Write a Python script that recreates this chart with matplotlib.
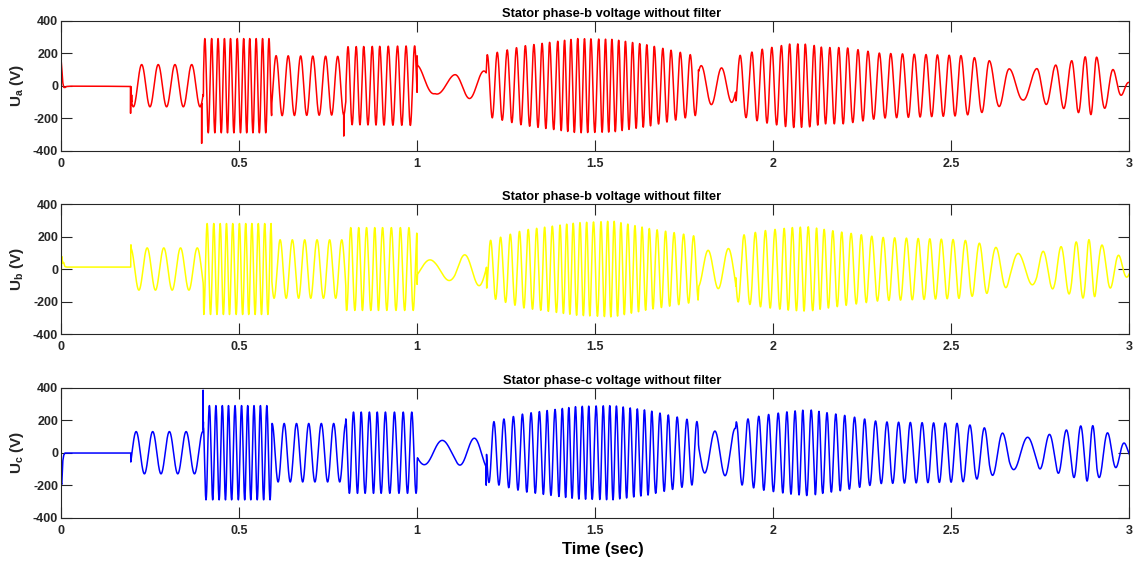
import numpy as np
import matplotlib
matplotlib.use("Agg")
import matplotlib.pyplot as plt

plt.rcParams['font.family'] = ['Liberation Sans', 'DejaVu Sans']
plt.rcParams['font.weight'] = 'bold'
plt.rcParams['axes.unicode_minus'] = False
plt.rcParams['mathtext.fontset'] = 'custom'
plt.rcParams['mathtext.rm'] = 'Liberation Sans:bold'
plt.rcParams['mathtext.bf'] = 'Liberation Sans:bold'
plt.rcParams['mathtext.it'] = 'Liberation Sans:bold'

# --- werte ---
# einschwingen am anfang (t < 0.196 s)
start_t = [0.000, 0.0006, 0.0022, 0.0049, 0.0075, 0.0107, 0.0154, 0.025, 0.035, 0.100, 0.195]
start_a = [-130, 150, 110, 20, -10, -12, -5, -3, -3, -3, -5]
start_b = [139, -25, 77, 36, 41, 15, 12, 12, 12, 12, 12]
start_c = [10, -185, -195, -53, -16, -2, -2, -2, -2, -2, -2]

# abschnittsgrenzen (umschaltzeitpunkte) in s
seg_edges = [0.196, 0.400, 0.592, 0.800, 1.000, 1.195, 1.790, 1.895, 3.0001]

# zeitpunkte der positiven maxima von phase a
peak_t = [0.2265, 0.273, 0.320, 0.367,
          0.404, 0.423, 0.441, 0.459, 0.476, 0.495, 0.513, 0.530, 0.548, 0.566, 0.584,
          0.604, 0.638, 0.673, 0.707, 0.743, 0.777,
          0.806, 0.829, 0.850, 0.874, 0.895, 0.919, 0.945, 0.969, 0.993,
          1.002, 1.106, 1.187,
          1.225, 1.253, 1.279, 1.304, 1.328, 1.351, 1.372, 1.395, 1.414, 1.432, 1.451,
          1.470, 1.488, 1.510, 1.529, 1.547, 1.566, 1.585, 1.605, 1.625, 1.645, 1.666,
          1.690, 1.713, 1.739, 1.767,
          1.798, 1.855,
          1.907, 1.940, 1.969, 1.996, 2.023, 2.046, 2.069, 2.090, 2.115, 2.135, 2.159,
          2.184, 2.209, 2.238, 2.266, 2.298, 2.330, 2.363, 2.396, 2.429, 2.461, 2.494,
          2.527, 2.565, 2.607, 2.663, 2.740, 2.793, 2.838, 2.876, 2.908, 2.955]

# amplituden (huellkurve) je phase
env_t = [0.196, 0.399, 0.401, 0.590, 0.592, 0.799, 0.801, 0.999, 1.001, 1.05, 1.10, 1.194,
         1.196, 1.30, 1.45, 1.55, 1.65, 1.789, 1.791, 1.894, 1.896, 1.97, 2.05, 2.10, 2.14,
         2.20, 2.30, 2.53, 2.60, 2.66, 2.70, 2.74, 2.79, 2.84, 2.88, 2.91, 2.96, 3.00]
env_a = [130, 130, 290, 290, 185, 180, 240, 245, 125, 50, 66, 92,
         190, 245, 290, 285, 250, 180, 125, 100, 180, 225, 258, 255, 235,
         235, 200, 185, 160, 105, 88, 105, 125, 155, 180, 175, 90, 20]
env_b = [130, 130, 280, 280, 180, 180, 255, 255, 60, 55, 75, 110,
         170, 240, 285, 295, 250, 200, 110, 130, 200, 235, 255, 260, 245,
         225, 195, 180, 150, 110, 90, 100, 125, 160, 185, 165, 100, 40]
env_c = [130, 130, 290, 290, 180, 180, 250, 250, 70, 80, 70, 100,
         180, 240, 285, 290, 260, 190, 120, 150, 190, 230, 255, 265, 250,
         230, 190, 180, 150, 110, 95, 95, 120, 150, 175, 160, 95, 40]

# einzelne schaltspitzen
spike_t_a = [0.1955, 0.1985, 0.395, 0.794]
spike_v_a = [-170, -57, -355, -310]
spike_t_b = [0.1965]
spike_v_b = [149]
spike_t_c = [0.399, 1.194]
spike_v_c = [385, -200]

titles = ["Stator phase-b voltage without filter",
          "Stator phase-b voltage without filter",
          "Stator phase-c voltage without filter"]
ylabels = [r"$\mathbf{U_a}$ (V)", r"$\mathbf{U_b}$ (V)", r"$\mathbf{U_c}$ (V)"]
colors = ["#ff0000", "#ffff00", "#0000ff"]

# --- signal aufbauen ---
t = np.arange(0, 3.0001, 0.0002)
peaks = np.array(peak_t)


def phase_a(t):
    ph = np.zeros_like(t)
    for lo, hi in zip(seg_edges[:-1], seg_edges[1:]):
        p = peaks[(peaks >= lo) & (peaks < hi)]
        m = (t >= lo) & (t < hi)
        k = np.arange(len(p))
        tt = t[m]
        v = np.interp(tt, p, k)
        v[tt < p[0]] = (tt[tt < p[0]] - p[0]) / (p[1] - p[0])
        v[tt > p[-1]] = len(p) - 1 + (tt[tt > p[-1]] - p[-1]) / (p[-1] - p[-2])
        ph[m] = 2 * np.pi * v
    return ph


ph = phase_a(t)
signals = []
for env, shift, st, sp_t, sp_v in [(env_a, 0.0, start_a, spike_t_a, spike_v_a),
                                   (env_b, -2 * np.pi / 3, start_b, spike_t_b, spike_v_b),
                                   (env_c, 2 * np.pi / 3, start_c, spike_t_c, spike_v_c)]:
    u = np.interp(t, env_t, env) * np.cos(ph + shift)
    early = t < seg_edges[0]
    u[early] = np.interp(t[early], start_t, st)
    for ts, vs in zip(sp_t, sp_v):
        u[np.argmin(np.abs(t - ts))] = vs
    signals.append(u)

# --- plot ---
fig = plt.figure(figsize=(11.38, 5.65), dpi=100)
bottoms = [0.7333, 0.4088, 0.0837]
axes = []
for i in range(3):
    ax = fig.add_axes([0.0536, bottoms[i], 0.9388, 0.2301])
    ax.plot(t, signals[i], color=colors[i], lw=1.1)
    ax.set_xlim(0, 3)
    ax.set_ylim(-400, 400)
    ax.set_xticks([0, 0.5, 1, 1.5, 2, 2.5, 3])
    ax.set_xticklabels(["0", "0.5", "1", "1.5", "2", "2.5", "3"])
    ax.set_yticks([-400, -200, 0, 200, 400])
    ax.tick_params(direction='in', length=7.9, width=0.8, top=True, right=True,
                   labelsize=9, colors='#262626', pad=2)
    ax.tick_params(axis='x', pad=5)
    for s in ax.spines.values():
        s.set_color('#262626')
        s.set_linewidth(0.8)
    ax.set_title(titles[i], fontsize=9.3, fontweight='bold', x=0.5155, pad=3)
    ax.set_ylabel(ylabels[i], fontsize=11, fontweight='bold', color='#262626')
    ax.yaxis.set_label_coords(-0.033, 0.5)
    axes.append(ax)

axes[2].set_xlabel("Time (sec)", fontsize=12, fontweight='bold')
axes[2].xaxis.set_label_coords(0.507, -0.185)

plt.savefig("out.png", dpi=100)
